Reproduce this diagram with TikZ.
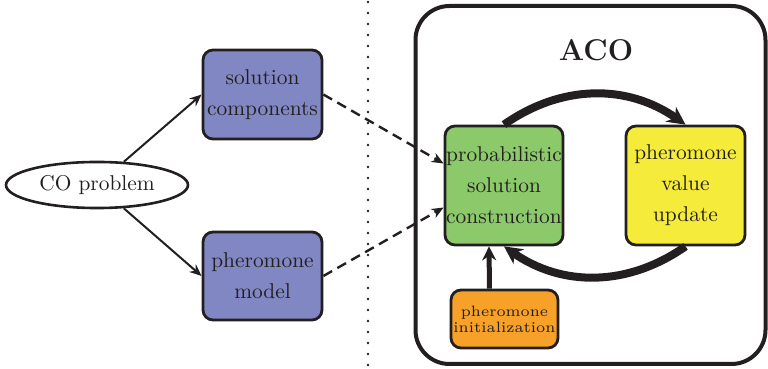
\documentclass[tikz,border=0pt]{standalone}
\usetikzlibrary{shapes.geometric,arrows.meta}

\definecolor{inkgray}{HTML}{231F20}
\definecolor{boxblue}{HTML}{8187C2}
\definecolor{boxgreen}{HTML}{8CC96A}
\definecolor{boxyellow}{HTML}{F5EB3A}
\definecolor{boxorange}{HTML}{F7A128}

\newcommand{\smallword}[1]{\scalebox{1.25}{\fontsize{6}{7}\selectfont #1}}

\tikzset{
  stepbox/.style={draw=inkgray, line width=1.4pt, rounded corners=5pt,
    align=center, inner sep=0.5pt, text=inkgray,
    font=\fontsize{10.7}{15.5}\selectfont},
  flow/.style={-{Stealth[length=6pt,width=5pt]}, line width=1pt, draw=inkgray},
  loop/.style={-{Stealth[length=9pt,width=9pt]}, line width=4pt, draw=inkgray},
}

\begin{document}
\begin{tikzpicture}[x=0.5pt, y=-0.5pt]
    \useasboundingbox (0,0) rectangle (768,369);

    % problem and its two parts
    \node[ellipse, draw=inkgray, line width=1.3pt, minimum width=90pt, minimum height=22pt,
          text=inkgray, font=\fontsize{10.7}{13}\selectfont] (co) at (97,185) {CO problem};
    \node[stepbox, fill=boxblue, minimum width=59.5pt, minimum height=44.5pt] (comp) at (262.5,94.5)
        {solution\\components};
    \node[stepbox, fill=boxblue, minimum width=59.5pt, minimum height=44pt] (model) at (262.5,276)
        {pheromone\\model};

    \draw[flow] (co) -- (comp.west);
    \draw[flow] (co) -- (model.west);

    % separator
    \draw[inkgray, line width=1.3pt, line cap=round, dash pattern=on 0pt off 5.5pt] (368,2) -- (368,368);

    % ACO frame
    \node[draw=inkgray, line width=2pt, rounded corners=17pt, minimum width=175pt, minimum height=179pt]
        (aco) at (590.5,185) {};
    \node[text=inkgray, font=\fontsize{15}{18}\selectfont\bfseries] (acolabel) at (596,50) {ACO};

    \node[stepbox, fill=boxgreen, minimum width=59pt, minimum height=59.5pt] (build) at (504,185.5)
        {probabilistic\\solution\\construction};
    \node[stepbox, fill=boxyellow, minimum width=59.5pt, minimum height=59.5pt] (update) at (685.5,185.5)
        {pheromone\\value\\update};
    \node[stepbox, fill=boxorange, minimum width=53.5pt, minimum height=29pt,
          font=\fontsize{6}{8}\selectfont] (init) at (504.5,319)
        {\smallword{pheromone}\\\smallword{initialization}};

    \draw[flow, dashed, dash pattern=on 5pt off 3pt, line width=1.2pt] (comp.east) -- ([yshift=11pt]build.west);
    \draw[flow, dashed, dash pattern=on 5pt off 3pt, line width=1.2pt] (model.east) -- ([yshift=-11pt]build.west);

    \draw[loop] (build.north) to[bend left=35] (update.north);
    \draw[loop] (update.south) to[bend left=35] (build.south);
    \draw[-{Stealth[length=7pt,width=7pt]}, line width=2.5pt, draw=inkgray]
        ([xshift=-7.5pt]init.north) -- ([xshift=-7.5pt]build.south);

\end{tikzpicture}
\end{document}
